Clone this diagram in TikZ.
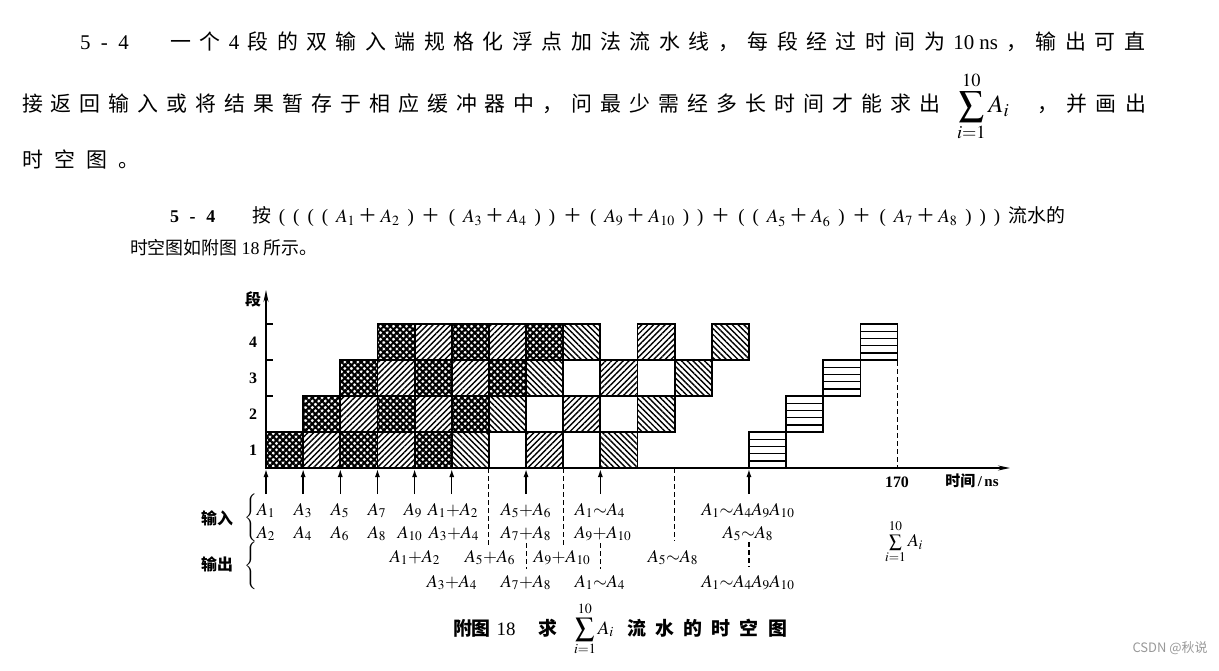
\documentclass[tikz,border=0pt]{standalone}
\usepackage{mathptmx}
\usepackage{fontspec}
\setmainfont{Liberation Serif}
\newfontfamily\cjk{Noto Sans CJK SC}
\usetikzlibrary{patterns.meta,arrows.meta}
\newcommand\spA{\hskip 0pt plus 1fil\relax}
\newcommand\spB{\hskip 0pt plus .4fil\relax}
\newcommand\myLP{{\rmfamily(}}
\newcommand\myRP{{\rmfamily)}}
\newcommand\myPL{＋}
\newcommand\spreadbox[2]{\hbox to #1{\spaceskip=0pt plus 1fil\xspaceskip=0pt plus 1fil\relax #2}}
\newcommand\fsz[1]{\fontsize{#1}{#1}\selectfont}
\begin{document}
\begin{tikzpicture}[x=1bp,y=-1bp,
  every node/.style={inner sep=0pt,outer sep=0pt},
  cellbox/.style={draw=black,line width=1.8bp},
  xa/.style={pattern={Lines[angle=45,distance=4.6bp,line width=2.1bp]}},
  xb/.style={pattern={Lines[angle=-45,distance=4.6bp,line width=2.1bp]}},
  nel/.style={pattern={Lines[angle=45,distance=4.1bp,line width=1.4bp]}},
  nwl/.style={pattern={Lines[angle=-45,distance=4.1bp,line width=1.4bp]}},
  hline/.style={line width=1.4bp},
  axisline/.style={line width=1.5bp,-{Stealth[length=12bp,width=5bp]}},
  inarrow/.style={line width=1.4bp,-{Latex[length=8bp,width=5bp]}},
  dashline/.style={line width=1.1bp,dash pattern=on 5bp off 3bp},
  lab/.style={font=\fsz{18},anchor=base},
  cjkb/.style={font=\cjk\bfseries\fsz{16}},
  numb/.style={font=\bfseries\fsz{16}},
  toptext/.style={anchor=base west}
]
\fill[white] (0,0) rectangle (1219,671);
\useasboundingbox (0,0) rectangle (1219,671);
\def\cw{37.15}

% ---------- problem text ----------
\node[toptext,font=\fsz{21}] (p1a) at (80,50) {5\hspace{.5em}-\hspace{.5em}4};
\node[toptext,font=\cjk\fsz{21}] (p1b) at (170,50) {\spreadbox{975bp}{一 个 {\rmfamily 4} 段 的 双 输 入 端 规 格 化 浮 点 加 法 流 水 线 ， 每 段 经 过 时 间 为 {\rmfamily 10\kern5bp ns} ， 输 出 可 直}};
\node[toptext,font=\cjk\fsz{21}] (p2a) at (22,112) {\spreadbox{918bp}{接 返 回 输 入 或 将 结 果 暂 存 于 相 应 缓 冲 器 中 ， 问 最 少 需 经 多 长 时 间 才 能 求 出}};
\node[toptext,font=\fsz{25}] (p2b) at (957,113) {$\displaystyle\sum_{i=1}^{10} A_i$};
\node[toptext,font=\cjk\fsz{21}] (p2c) at (1037,112) {\spreadbox{109bp}{， 并 画 出}};
\node[toptext,font=\cjk\fsz{21}] (p3) at (22,168) {\spreadbox{117bp}{时 空 图 。}};

\node[toptext,font=\bfseries\fsz{18}] (p4a) at (170,223) {5\hspace{.6em}-\hspace{.6em}4};
\node[toptext,font=\cjk\fsz{19}] (p4b) at (252,223) {\hbox to 813bp{按\spA\myLP\spA\myLP\spA\myLP\spA\myLP\spA$A_1$\spB\myPL\spB$A_2$\spA\myRP\spA\myPL\spA\myLP\spA$A_3$\spB\myPL\spB$A_4$\spA\myRP\spA\myRP\spA\myPL\spA\myLP\spA$A_9$\spB\myPL\spB$A_{10}$\spA\myRP\spA\myRP\spA\myPL\spA\myLP\spA\myLP\spA$A_5$\spB\myPL\spB$A_6$\spA\myRP\spA\myPL\spA\myLP\spA$A_7$\spB\myPL\spB$A_8$\spA\myRP\spA\myRP\spA\myRP\spA 流水的}};
\node[toptext,font=\cjk\fsz{18}] (p5) at (130,254) {时空图如附图 {\rmfamily 18} 所示。};

% ---------- cells ----------
\foreach \t/\s in {0/1,2/1,4/1,1/2,3/2,5/2,2/3,4/3,6/3,3/4,5/4,7/4}{
  \fill[xa] ({266+\cw*\t},{468-36*\s}) rectangle ++(\cw,36);
  \fill[xb] ({266+\cw*\t},{468-36*\s}) rectangle ++(\cw,36);
}
\foreach \t/\s in {1/1,3/1,7/1,2/2,4/2,8/2,3/3,5/3,9/3,4/4,6/4,10/4}{
  \fill[nel] ({266+\cw*\t},{468-36*\s}) rectangle ++(\cw,36);
}
\foreach \t/\s in {5/1,9/1,6/2,10/2,7/3,11/3,8/4,12/4}{
  \fill[nwl] ({266+\cw*\t},{468-36*\s}) rectangle ++(\cw,36);
}
\foreach \t/\s in {13/1,14/2,15/3,16/4}{
  \foreach \k in {1,...,4}{
    \draw[hline] ({266+\cw*\t},{468-36*\s+7.2*\k}) -- ++(\cw,0);
  }
}
\foreach \t/\s in {0/1,2/1,4/1,1/2,3/2,5/2,2/3,4/3,6/3,3/4,5/4,7/4,
                   1/1,3/1,7/1,2/2,4/2,8/2,3/3,5/3,9/3,4/4,6/4,10/4,
                   5/1,9/1,6/2,10/2,7/3,11/3,8/4,12/4,
                   6/1,8/1,7/2,9/2,8/3,10/3,
                   13/1,14/2,15/3,16/4}{
  \draw[cellbox] ({266+\cw*\t},{468-36*\s}) rectangle ++(\cw,36);
}

% ---------- axes ----------
\coordinate (O) at (266,468);
\coordinate (xe) at (1010,468);
\coordinate (ye) at (266,290);
\draw[axisline] (O) -- (xe);
\draw[axisline] (O) -- (ye);
\foreach \s in {1,...,4}{
  \coordinate (tk\s) at (266,{468-36*\s});
  \draw[line width=1.3bp] (tk\s) -- ++(7,0);
}
\node[cjkb] (duan) at (253,299) {段};
\foreach \s in {1,...,4}{
  \node[numb] (n\s) at (253,{468-36*\s+18}) {\s};
}
\node[numb] (t170) at (897,482) {170};
\node[font=\cjk\bfseries\fsz{15}] (tlab) at (972,481) {时间\,{\rmfamily\bfseries /\,ns}};

% ---------- input arrows ----------
\foreach \t in {0,1,2,3,4,5,7,9,13}{
  \coordinate (ia\t) at ({266+\cw*\t},494);
  \coordinate (ib\t) at ({266+\cw*\t},469);
  \draw[inarrow] (ia\t) -- (ib\t);
}

% ---------- dashed lines ----------
\coordinate (da1) at ({266+\cw*6},468);  \coordinate (db1) at ({266+\cw*6},545);
\coordinate (da2) at ({266+\cw*8},468);  \coordinate (db2) at ({266+\cw*8},545);
\coordinate (da3) at ({266+\cw*11},468); \coordinate (db3) at ({266+\cw*11},541);
\coordinate (da4) at ({266+\cw*7},543);  \coordinate (db4) at ({266+\cw*7},569);
\coordinate (da5) at ({266+\cw*9},543);  \coordinate (db5) at ({266+\cw*9},569);
\coordinate (da6) at ({266+\cw*13},542); \coordinate (db6) at ({266+\cw*13},567);
\coordinate (da7) at ({266+\cw*17},361); \coordinate (db7) at ({266+\cw*17},468);
\foreach \i in {1,...,7}{ \draw[dashline] (da\i) -- (db\i); }

% ---------- labels ----------
\node[cjkb] (inl) at (217,518) {输入};
\node[cjkb] (outl) at (217,564) {输出};
\node[font=\fsz{16}] (inbr) at (252,518) {$\left\{\vphantom{\rule[-18bp]{0pt}{36bp}}\right.$};
\node[font=\fsz{16}] (outbr) at (252,566) {$\left\{\vphantom{\rule[-18bp]{0pt}{36bp}}\right.$};

\node[lab] (r1a) at (266,515) {$A_1$};
\node[lab] (r1b) at (303,515) {$A_3$};
\node[lab] (r1c) at (340,515) {$A_5$};
\node[lab] (r1d) at (377,515) {$A_7$};
\node[lab] (r1e) at (413,515) {$A_9$};
\node[lab] (r1f) at (453,515) {$A_1{+}A_2$};
\node[lab] (r1g) at (526,515) {$A_5{+}A_6$};
\node[lab] (r1h) at (600,515) {$A_1{\sim}A_4$};
\node[lab] (r1i) at (748,515) {$A_1{\sim}A_4A_9A_{10}$};

\node[lab] (r2a) at (266,538) {$A_2$};
\node[lab] (r2b) at (303,538) {$A_4$};
\node[lab] (r2c) at (340,538) {$A_6$};
\node[lab] (r2d) at (377,538) {$A_8$};
\node[lab] (r2e) at (410,538) {$A_{10}$};
\node[lab] (r2f) at (454,538) {$A_3{+}A_4$};
\node[lab] (r2g) at (526,538) {$A_7{+}A_8$};
\node[lab] (r2h) at (603,538) {$A_9{+}A_{10}$};
\node[lab] (r2i) at (748,538) {$A_5{\sim}A_8$};

\node[lab] (o1a) at (415,562) {$A_1{+}A_2$};
\node[lab] (o1b) at (490,562) {$A_5{+}A_6$};
\node[lab] (o1c) at (562,562) {$A_9{+}A_{10}$};
\node[lab] (o1d) at (673,562) {$A_5{\sim}A_8$};

\node[lab] (o2a) at (452,587) {$A_3{+}A_4$};
\node[lab] (o2b) at (526,587) {$A_7{+}A_8$};
\node[lab] (o2c) at (600,587) {$A_1{\sim}A_4$};
\node[lab] (o2d) at (748,587) {$A_1{\sim}A_4A_9A_{10}$};

\node[font=\fsz{18}] (sumlab) at (904,542) {$\sum\limits_{i=1}^{10}A_i$};

% ---------- caption ----------
\node[toptext,font=\cjk\bfseries\fsz{19}] (c1) at (453,635) {附图\hspace{.3em}{\rmfamily\mdseries 18}};
\node[toptext,font=\cjk\bfseries\fsz{19}] (c2) at (538,635) {求};
\node[toptext,font=\fsz{19}] (c3) at (574,634) {$\displaystyle\sum_{i=1}^{10} A_i$};
\node[toptext,font=\cjk\bfseries\fsz{19}] (c4) at (627,635) {\spreadbox{160bp}{流 水 的 时 空 图}};

\node[font=\cjk\fsz{13},text=black!40] (wm) at (1170,648) {CSDN @秋说};
\end{tikzpicture}
\end{document}
